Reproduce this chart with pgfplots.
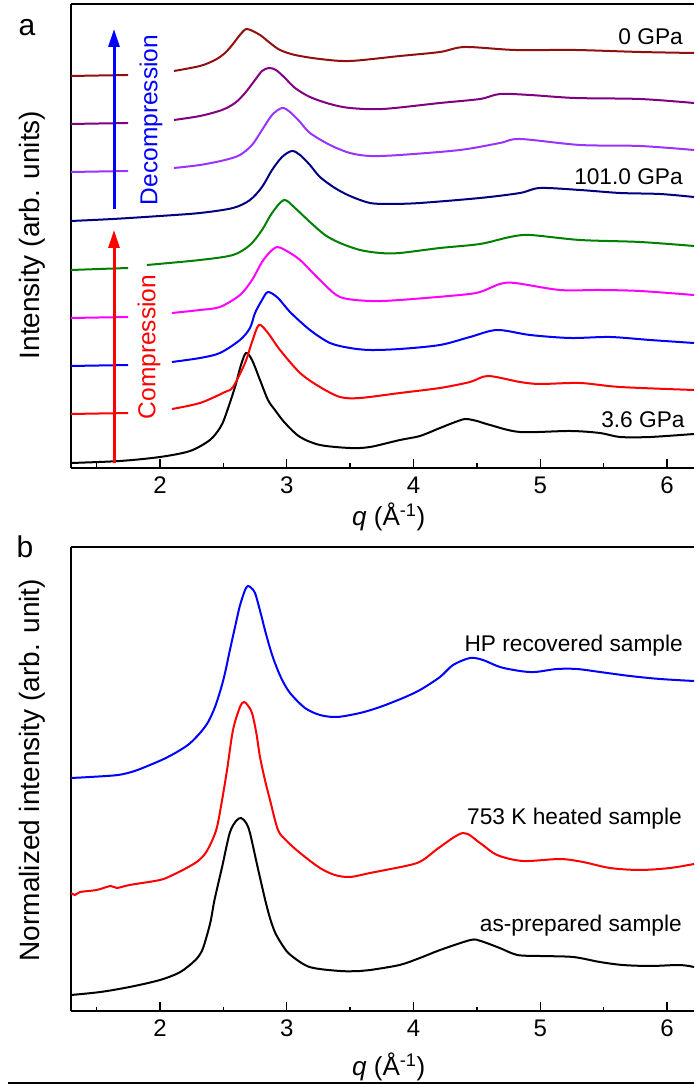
\documentclass[border=0pt]{standalone}
\usepackage{pgfplots}
\pgfplotsset{compat=1.18}
\usepackage{fontspec}
\setmainfont{Liberation Sans}
\usetikzlibrary{arrows.meta}
\definecolor{cDR}{RGB}{145,15,15}
\definecolor{cPU}{RGB}{128,0,128}
\definecolor{cVI}{RGB}{153,51,255}
\definecolor{cNV}{RGB}{0,0,128}
\definecolor{cGR}{RGB}{0,128,0}
\definecolor{cMG}{RGB}{255,0,255}
\definecolor{cBL}{RGB}{0,0,255}
\definecolor{cRD}{RGB}{255,0,0}
\pgfplotsset{
  panel/.style={
    scale only axis, width=623pt, height=464pt,
    xmin=1.298, xmax=6.213, ymin=0, ymax=464,
    axis x line=bottom, axis y line=left,
    axis line style={-, line width=1.4pt, black},
    xtick={2,3,4,5,6}, minor xtick={1.5,2.5,3.5,4.5,5.5}, ytick=\empty,
    tick align=inside,
    major tick length=9pt, minor tick length=4.5pt,
    tick style={line width=1.4pt, black},
    /pgf/number format/assume math mode=true,
    xticklabel style={font=\fontsize{24}{24}\selectfont, yshift=-5pt},
  },
  crv/.style={line width=2pt, smooth, no markers, #1},
}
\tikzset{ann/.style={font=\fontsize{22.7}{22.7}\selectfont, anchor=base east, inner sep=0pt}}
\begin{document}
\begin{tikzpicture}[x=1pt,y=1pt]
\useasboundingbox (0,0) rectangle (694,1084);
% ---------------- panel a ----------------
\begin{axis}[panel, at={(71pt,616pt)}, anchor=south west,
  xlabel={\textit{q} (Å\textsuperscript{-1})},
  every axis x label/.style={at={(axis description cs:0.51,0)}, anchor=center, yshift=-49pt, font=\fontsize{26}{26}\selectfont},
  ylabel={Intensity (arb. units)},
  every axis y label/.style={at={(axis description cs:-0.0626,0.502)}, anchor=center, rotate=90, font=\fontsize{28}{28}\selectfont},
]
% 3.6 GPa (black)
\addplot[crv=black] coordinates {(1.298,5) (1.684,7) (2.00,11) (2.237,17) (2.394,28) (2.473,40) (2.513,51) (2.592,81) (2.639,103) (2.679,115) (2.726,108) (2.789,88) (2.852,68) (2.907,58) (2.986,45) (3.105,31) (3.262,23) (3.499,20) (3.657,21) (3.893,28) (4.051,32) (4.209,40) (4.33,46) (4.41,49) (4.50,47) (4.604,43) (4.840,36) (5.235,37) (5.471,35) (5.629,31) (5.866,31) (6.213,34)};
% red
\addplot[crv=cRD] coordinates {(1.298,54) (1.748,55)};
\addplot[crv=cRD] coordinates {(2.095,59) (2.316,65) (2.513,76) (2.576,81) (2.671,105) (2.726,126) (2.781,143) (2.852,135) (2.947,118) (3.105,95) (3.262,81) (3.420,71) (3.578,70) (3.893,75) (4.209,80) (4.446,86) (4.588,92) (4.840,86) (4.998,84) (5.314,85) (5.629,81) (6.213,78)};
% blue
\addplot[crv=cBL] coordinates {(1.298,102) (1.748,103)};
\addplot[crv=cBL] coordinates {(2.095,106) (2.316,110) (2.473,115) (2.631,128) (2.710,140) (2.750,155) (2.805,168) (2.852,176) (2.931,170) (3.026,156) (3.183,138) (3.341,125) (3.499,120) (3.657,118) (3.893,119) (4.209,123) (4.446,131) (4.659,138) (4.919,133) (5.235,130) (5.550,131) (5.866,128) (6.213,125)};
% magenta
\addplot[crv=cMG] coordinates {(1.298,150) (1.748,151)};
\addplot[crv=cMG] coordinates {(2.095,155) (2.316,158) (2.473,161) (2.631,173) (2.726,188) (2.805,206) (2.868,216) (2.923,221) (2.986,218) (3.105,208) (3.262,188) (3.420,171) (3.657,167) (3.893,168) (4.367,173) (4.525,176) (4.682,184) (4.801,185) (5.156,178) (5.471,178) (5.787,177) (6.213,173)};
% green
\addplot[crv=cGR] coordinates {(1.298,198) (1.748,200)};
\addplot[crv=cGR] coordinates {(1.897,203) (2.316,208) (2.576,213) (2.710,223) (2.805,238) (2.884,255) (2.978,268) (3.065,260) (3.183,246) (3.302,233) (3.420,225) (3.578,218) (3.736,215) (3.893,215) (4.209,220) (4.525,224) (4.761,231) (4.919,233) (5.314,228) (5.787,226) (6.213,222)};
% navy 101.0 GPa
\addplot[crv=cNV] coordinates {(1.298,247) (1.629,249) (2.0,252) (2.316,255) (2.576,260) (2.710,268) (2.805,281) (2.884,298) (2.963,311) (3.041,317) (3.105,313) (3.183,303) (3.262,291) (3.380,280) (3.499,272) (3.657,265) (3.815,264) (4.051,265) (4.525,270) (4.840,275) (4.998,280) (5.314,278) (5.629,275) (5.945,274) (6.213,271)};
% violet
\addplot[crv=cVI] coordinates {(1.298,296) (1.748,297)};
\addplot[crv=cVI] coordinates {(2.110,300) (2.316,303) (2.513,308) (2.631,313) (2.726,323) (2.805,338) (2.884,353) (2.963,360) (3.026,356) (3.105,346) (3.183,335) (3.341,323) (3.499,315) (3.657,312) (3.893,313) (4.367,318) (4.682,325) (4.840,329) (5.314,323) (5.787,322) (6.213,318)};
% purple
\addplot[crv=cPU] coordinates {(1.298,344) (1.748,345)};
\addplot[crv=cPU] coordinates {(2.110,348) (2.316,352) (2.489,358) (2.592,365) (2.671,375) (2.750,388) (2.805,397) (2.860,400) (2.915,398) (2.986,390) (3.065,380) (3.183,371) (3.341,364) (3.499,360) (3.759,359) (4.209,365) (4.525,369) (4.682,374) (4.919,373) (5.274,370) (5.787,369) (6.213,365)};
% dark red 0 GPa
\addplot[crv=cDR] coordinates {(1.298,392) (1.748,393)};
\addplot[crv=cDR] coordinates {(2.110,397) (2.316,402) (2.434,408) (2.513,415) (2.576,424) (2.631,433) (2.686,439) (2.789,433) (2.868,425) (2.947,418) (3.065,413) (3.262,409) (3.499,407) (3.893,412) (4.209,416) (4.406,421) (4.801,418) (5.274,418) (5.787,416) (6.213,415)};
\draw[line width=1.4pt] (rel axis cs:0,1) -- (rel axis cs:1,1);
\node[ann] at (axis cs:6.126,423) {0 GPa};
\node[ann] at (axis cs:6.126,283) {101.0 GPa};
\node[ann] at (axis cs:6.140,40) {3.6 GPa};
\end{axis}
% arrows and texts of panel a
\draw[cRD, line width=3pt, -{Triangle[width=11pt,length=18pt]}] (114,621) -- (114,854);
\draw[cBL, line width=3pt, -{Triangle[width=11pt,length=18pt]}] (114,875) -- (114,1055);
\node[cRD, rotate=90, font=\fontsize{24.5}{24.5}\selectfont] at (149,737) {Compression};
\node[cBL, rotate=90, font=\fontsize{24.5}{24.5}\selectfont] at (151,964) {Decompression};
\node[font=\fontsize{30}{30}\selectfont] at (27,1056) {a};
% ---------------- panel b ----------------
\begin{axis}[panel, at={(71pt,73pt)}, anchor=south west,
  xlabel={\textit{q} (Å\textsuperscript{-1})},
  every axis x label/.style={at={(axis description cs:0.51,0)}, anchor=center, yshift=-56pt, font=\fontsize{26}{26}\selectfont},
  ylabel={Normalized intensity (arb. unit)},
  every axis y label/.style={at={(axis description cs:-0.0626,0.519)}, anchor=center, rotate=90, font=\fontsize{28}{28}\selectfont},
]
% as-prepared (black)
\addplot[crv=black] coordinates {(1.298,16) (1.53,19) (1.76,24) (2.00,31) (2.16,39) (2.28,51) (2.33,60) (2.36,71) (2.40,90) (2.43,111) (2.49,144) (2.55,178) (2.60,190) (2.64,193) (2.68,188) (2.71,178) (2.77,144) (2.83,111) (2.87,92) (2.91,78) (2.97,65) (3.03,56) (3.18,44) (3.42,40) (3.58,40) (3.66,41) (3.89,46) (4.05,53) (4.21,61) (4.45,71) (4.53,70) (4.68,63) (4.82,56) (5.00,55) (5.26,54) (5.47,49) (5.65,46) (5.87,45) (6.10,46) (6.213,44)};
% 753 K heated (red)
\addplot[crv=cRD] coordinates {(1.298,118) (1.330,116) (1.37,119) (1.50,121) (1.61,125) (1.66,123) (1.76,126) (2.00,131) (2.10,136) (2.21,143) (2.30,150) (2.36,158) (2.41,170) (2.45,184) (2.49,211) (2.529,241) (2.576,281) (2.631,304) (2.663,309) (2.69,306) (2.726,298) (2.76,278) (2.789,254) (2.83,230) (2.868,211) (2.931,181) (3.00,170) (3.105,158) (3.262,143) (3.38,136) (3.499,134) (3.657,138) (3.972,146) (4.075,151) (4.209,164) (4.391,178) (4.525,168) (4.659,156) (4.864,150) (5.156,152) (5.337,149) (5.550,143) (5.787,141) (6.024,143) (6.213,147)};
% HP recovered (blue)
\addplot[crv=cBL] coordinates {(1.298,233) (1.448,234) (1.669,236) (1.80,240) (1.921,246) (2.03,252) (2.134,259) (2.23,267) (2.316,278) (2.38,289) (2.434,304) (2.48,322) (2.513,338) (2.55,360) (2.592,384) (2.63,405) (2.671,421) (2.694,425) (2.72,423) (2.750,418) (2.79,400) (2.828,381) (2.87,362) (2.907,348) (2.96,332) (3.026,318) (3.144,303) (3.262,296) (3.396,294) (3.578,298) (3.736,304) (3.917,313) (4.051,321) (4.209,334) (4.312,346) (4.446,353) (4.548,351) (4.682,344) (4.840,340) (4.959,339) (5.132,342) (5.290,342) (5.471,339) (5.708,335) (5.945,332) (6.213,330)};
\draw[line width=1.4pt] (rel axis cs:0,1) -- (rel axis cs:1,1);
\node[ann] at (axis cs:6.126,359) {HP recovered sample};
\node[ann] at (axis cs:6.118,186) {753 K heated sample};
\node[ann] at (axis cs:6.118,79) {as-prepared sample};
\end{axis}
\node[font=\fontsize{30}{30}\selectfont] at (25,537) {b};
\draw[line width=1.5pt] (8,1) -- (694,1);
\end{tikzpicture}
\end{document}
